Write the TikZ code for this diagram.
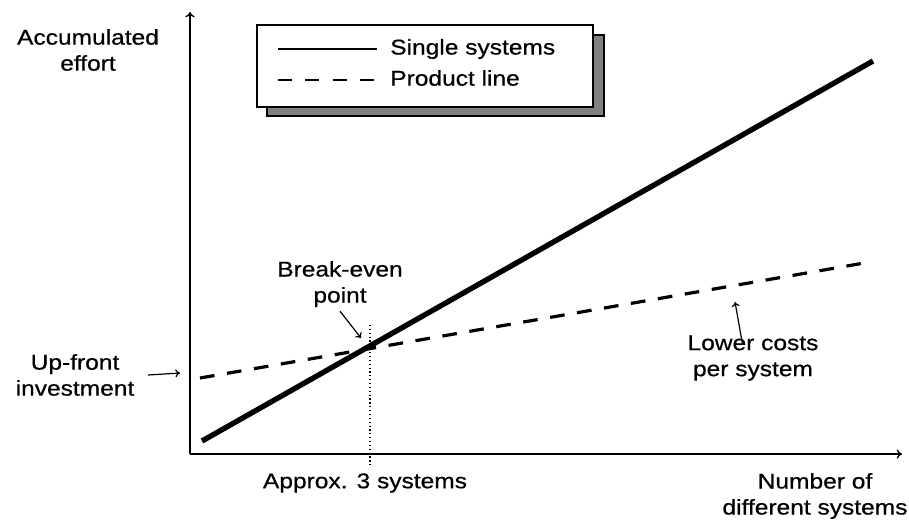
\documentclass[tikz,border=0pt]{standalone}
\usepackage{fontspec}
\setmainfont{Liberation Sans}[FakeStretch=1.15, FakeBold=0.6]
\usetikzlibrary{positioning, arrows.meta}

\begin{document}
\begin{tikzpicture}[
    x=0.75pt, y=-0.75pt,
    axis/.style={-{To[length=4pt, width=7pt]}, line width=1pt},
    single/.style={line width=4pt},
    prodline/.style={line width=2.4pt, dash pattern=on 11pt off 9.5pt},
    legsingle/.style={line width=1.6pt},
    legprod/.style={line width=1.6pt, dash pattern=on 10.5pt off 10pt},
    legbox/.style={draw, line width=1.2pt, fill=white},
    legshadow/.style={draw, line width=1.2pt, fill=black!50},
    lbl/.style={align=center, font=\fontsize{16}{19.5}\selectfont, inner sep=0pt},
    pointer/.style={-{To[length=3.5pt, width=6pt]}, line width=0.9pt}
    ]
    \useasboundingbox (0,0) rectangle (909,519);

    \coordinate (origin) at (190,454);
    \coordinate (ytop) at (190,12);
    \coordinate (xend) at (902,454);
    \draw [axis] (origin) -- (ytop);
    \draw [axis] (origin) -- (xend);

    \begin{scope}
        \path [legshadow] (267,35) rectangle (604,116);
        \path [legbox] (257,25) rectangle (593,107);
        \coordinate (lsA) at (278,49);
        \coordinate (lsB) at (377,49);
        \coordinate (lpA) at (278,80);
        \coordinate (lpB) at (377,80);
        \draw [legsingle] (lsA) -- (lsB);
        \draw [legprod] (lpA) -- (lpB);
        \node [lbl, anchor=west] (legS) at (390,49) {Single systems};
        \node [lbl, anchor=west] (legP) at (390,78) {Product line};
    \end{scope}

    \coordinate (sA) at (202,441);
    \coordinate (sB) at (873,61);
    \coordinate (pA) at (200,378);
    \coordinate (pB) at (870,262);
    \draw [prodline] (pA) -- (pB);
    \draw [single] (sA) -- (sB);

    \coordinate (beTop) at (370,325);
    \coordinate (beBot) at (370,465);
    \draw [dotted, line width=0.9pt] (beTop) -- (beBot);

    \node [lbl] (yLbl) at (88,50) {Accumulated\\effort};
    \node [lbl] (upLbl) at (75,375) {Up-front\\investment};
    \node [lbl] (beLbl) at (340,284) {Break-even\\point};
    \node [lbl] (lowLbl) at (753,358) {Lower costs\\per system};
    \node [lbl] (approxLbl) at (365,483) {Approx. 3 systems};
    \node [lbl] (xLbl) at (815,496) {Number of\\different systems};

    \coordinate (upTip) at (180,373);
    \coordinate (beTip) at (361,338);
    \coordinate (lowTip) at (735,302);
    \draw [pointer] (upLbl.east) ++(10pt,0) coordinate (upTail) (upTail) -- (upTip);
    \draw [pointer] (beLbl.south) ++(0,-3pt) coordinate (beTail) (beTail) -- (beTip);
    \draw [pointer] (lowLbl.north) ++(-8pt,-6pt) coordinate (lowTail) (lowTail) -- (lowTip);
\end{tikzpicture}
\end{document}
